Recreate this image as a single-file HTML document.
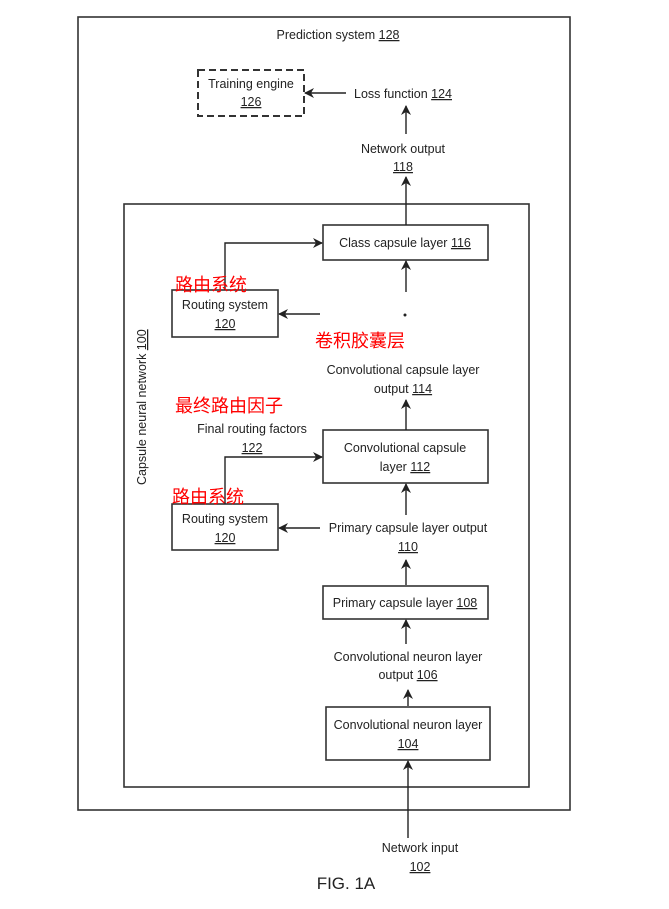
<!DOCTYPE html>
<html><head><style>
body{margin:0;background:#fff;}
svg text{font-family:"Liberation Sans",Arial,sans-serif;font-size:12.5px;fill:#222;}
.cn{font-family:"Liberation Sans","Noto Sans CJK SC",sans-serif;font-size:18px;fill:#f00;}
</style></head><body>
<svg width="669" height="904" viewBox="0 0 669 904" xmlns="http://www.w3.org/2000/svg">
<defs><marker id="a" markerWidth="10" markerHeight="10" refX="9" refY="5" orient="auto" markerUnits="userSpaceOnUse"><path d="M0,0 L10,5 L0,10 L3,5 z" fill="#222"/></marker></defs>
<g fill="none" stroke="#333" stroke-width="1.6">
<rect x="78" y="17" width="492" height="793"/>
<rect x="124" y="204" width="405" height="583"/>
<rect x="198" y="70" width="106" height="46" stroke-dasharray="7,4" stroke-width="2"/>
<rect x="323" y="225" width="165" height="35"/>
<rect x="172" y="290" width="106" height="47"/>
<rect x="323" y="430" width="165" height="53"/>
<rect x="172" y="504" width="106" height="46"/>
<rect x="323" y="586" width="165" height="33"/>
<rect x="326" y="707" width="164" height="53"/>
</g>
<g stroke="#222" stroke-width="1.4" fill="none" marker-end="url(#a)">
<line x1="408" y1="838" x2="408" y2="761"/>
<line x1="408" y1="706" x2="408" y2="690"/>
<line x1="406" y1="644" x2="406" y2="620"/>
<line x1="406" y1="585" x2="406" y2="560"/>
<line x1="406" y1="515" x2="406" y2="484"/>
<line x1="406" y1="430" x2="406" y2="400"/>
<line x1="406" y1="292" x2="406" y2="261"/>
<line x1="406" y1="225" x2="406" y2="177"/>
<line x1="406" y1="134" x2="406" y2="106"/>
<line x1="346" y1="93" x2="305" y2="93"/>
<line x1="320" y1="314" x2="279" y2="314"/>
<line x1="320" y1="528" x2="279" y2="528"/>
<polyline points="225,290 225,243 322,243"/>
<polyline points="225,504 225,457 322,457"/>
</g>
<circle cx="405" cy="315" r="1.5" fill="#222"/>
<text x="338" y="39" text-anchor="middle">Prediction system <tspan text-decoration="underline">128</tspan></text>
<text x="251" y="88" text-anchor="middle">Training engine</text>
<text x="251" y="106" text-anchor="middle" text-decoration="underline">126</text>
<text x="403" y="98" text-anchor="middle">Loss function <tspan text-decoration="underline">124</tspan></text>
<text x="403" y="153" text-anchor="middle">Network output</text>
<text x="403" y="171" text-anchor="middle" text-decoration="underline">118</text>
<text x="405" y="247" text-anchor="middle">Class capsule layer  <tspan text-decoration="underline">116</tspan></text>
<text x="225" y="309" text-anchor="middle">Routing system</text>
<text x="225" y="328" text-anchor="middle" text-decoration="underline">120</text>
<text x="403" y="374" text-anchor="middle">Convolutional capsule layer</text>
<text x="403" y="393" text-anchor="middle">output <tspan text-decoration="underline">114</tspan></text>
<text x="252" y="433" text-anchor="middle">Final routing factors</text>
<text x="252" y="452" text-anchor="middle" text-decoration="underline">122</text>
<text x="405" y="452" text-anchor="middle">Convolutional capsule</text>
<text x="405" y="471" text-anchor="middle">layer  <tspan text-decoration="underline">112</tspan></text>
<text x="225" y="523" text-anchor="middle">Routing system</text>
<text x="225" y="542" text-anchor="middle" text-decoration="underline">120</text>
<text x="408" y="532" text-anchor="middle">Primary capsule layer output</text>
<text x="408" y="551" text-anchor="middle" text-decoration="underline">110</text>
<text x="405" y="607" text-anchor="middle">Primary capsule layer  <tspan text-decoration="underline">108</tspan></text>
<text x="408" y="661" text-anchor="middle">Convolutional neuron layer</text>
<text x="408" y="679" text-anchor="middle">output <tspan text-decoration="underline">106</tspan></text>
<text x="408" y="729" text-anchor="middle">Convolutional neuron layer</text>
<text x="408" y="748" text-anchor="middle" text-decoration="underline">104</text>
<text x="420" y="852" text-anchor="middle">Network input</text>
<text x="420" y="871" text-anchor="middle" text-decoration="underline">102</text>
<text x="346" y="889" text-anchor="middle" style="font-size:17px">FIG. 1A</text>
<text transform="translate(146,485) rotate(-90)">Capsule neural network  <tspan text-decoration="underline">100</tspan></text>
<text class="cn" x="175" y="291">路由系统</text>
<text class="cn" x="315" y="347">卷积胶囊层</text>
<text class="cn" x="175" y="412">最终路由因子</text>
<text class="cn" x="172" y="503">路由系统</text>
</svg>
</body></html>
